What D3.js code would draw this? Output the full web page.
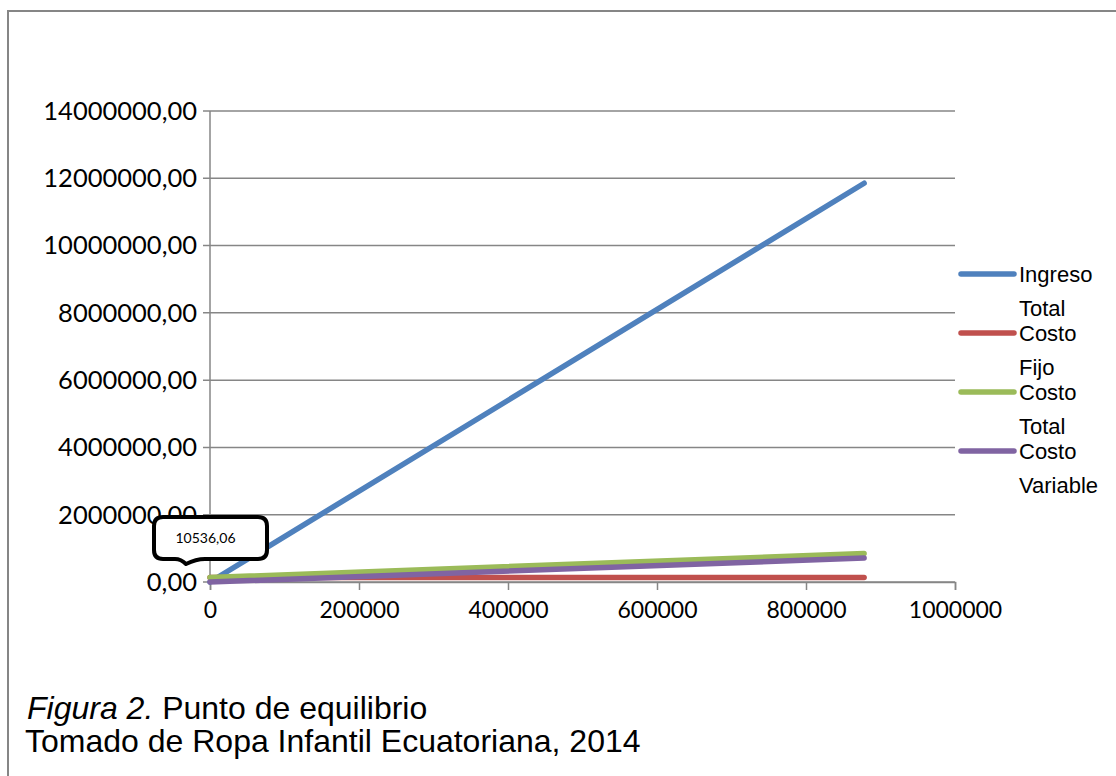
<!DOCTYPE html>
<html lang="es">
<head>
<meta charset="utf-8">
<script src="https://cdn.jsdelivr.net/npm/d3@7"></script>
<style>
  html, body { margin: 0; padding: 0; background: #fff; }
  svg { display: block; }
  .axis-label { font-family: Lato, "Open Sans", sans-serif; font-size: 23px; fill: #000; }
  .y-label { font-family: Lato, "Open Sans", sans-serif; font-size: 25.5px; fill: #000; }
  .legend-label { font-family: "Liberation Sans", Arial, sans-serif; font-size: 22px; fill: #000; }
  .caption { font-family: "Liberation Sans", Arial, sans-serif; font-size: 32px; fill: #000; }
</style>
</head>
<body>
<svg id="chart" width="1116" height="776"></svg>
<script>
// Cantidad de unidades (eje X) y valores de cada serie en dólares
const cantidad      = [0, 878000];
const ingresoTotal  = [0, 11853000];
const costoFijo     = [133700, 133700];
const costoTotal    = [133700, 846600];
const costoVariable = [0, 712900];

const seriesNames  = ["Ingreso Total", "Costo Fijo", "Costo Total", "Costo Variable"];
const legendLines  = [["Ingreso", "Total"], ["Costo", "Fijo"], ["Costo", "Total"], ["Costo", "Variable"]];
const seriesColors = ["#4F81BD", "#C0504D", "#9BBB59", "#8064A2"];

const yTicks = [0, 2000000, 4000000, 6000000, 8000000, 10000000, 12000000, 14000000];
const xTicks = [0, 200000, 400000, 600000, 800000, 1000000];

// Punto de equilibrio (unidades)
const puntoEquilibrio = 10536.06;

const series = [ingresoTotal, costoFijo, costoTotal, costoVariable].map((vals, i) => ({
  name: seriesNames[i],
  color: seriesColors[i],
  points: cantidad.map((q, j) => [q, vals[j]])
}));

const es = d3.formatLocale({ decimal: ",", thousands: "", grouping: [3], currency: ["", ""] });
const fmtY = es.format(".2f");
const fmtX = es.format("d");

const svg = d3.select("#chart");
const gridColor = "#868686";

// Marco del gráfico
svg.append("path")
  .attr("d", "M8,776V11H1116")
  .attr("fill", "none")
  .attr("stroke", gridColor)
  .attr("stroke-width", 2);

const x = d3.scaleLinear().domain([0, 1000000]).range([210, 955]);
const y = d3.scaleLinear().domain([0, 14000000]).range([582, 111]);

// Líneas de cuadrícula horizontales con marcas del eje Y
svg.append("g")
  .selectAll("line")
  .data(yTicks)
  .join("line")
  .attr("x1", 203)
  .attr("x2", x(1000000))
  .attr("y1", d => y(d))
  .attr("y2", d => y(d))
  .attr("stroke", gridColor)
  .attr("stroke-width", 1.5);

// Eje Y
svg.append("line")
  .attr("x1", x(0)).attr("x2", x(0))
  .attr("y1", y(14000000)).attr("y2", y(0))
  .attr("stroke", gridColor).attr("stroke-width", 1.5);

// Eje X con marcas
const xAxis = d3.axisBottom(x).tickValues(xTicks).tickSize(8).tickFormat(fmtX).tickPadding(12);
const gx = svg.append("g").attr("transform", `translate(0,${y(0)})`).call(xAxis);
gx.attr("font-family", null).attr("font-size", null);
gx.select(".domain").attr("stroke", gridColor).attr("stroke-width", 1.5);
gx.selectAll(".tick line").attr("stroke", gridColor).attr("stroke-width", 1.5);
gx.selectAll(".tick text")
  .attr("class", "axis-label")
  .attr("fill", "#000");

// Etiquetas del eje Y
svg.append("g")
  .selectAll("text")
  .data(yTicks)
  .join("text")
  .attr("class", "y-label")
  .attr("x", 197)
  .attr("y", d => y(d))
  .attr("dy", "0.35em")
  .attr("text-anchor", "end")
  .text(d => fmtY(d));

// Series
const line = d3.line().x(d => x(d[0])).y(d => y(d[1]));
svg.append("g")
  .selectAll("path")
  .data(series)
  .join("path")
  .attr("d", d => line(d.points))
  .attr("fill", "none")
  .attr("stroke", d => d.color)
  .attr("stroke-width", 5.5)
  .attr("stroke-linecap", "round");

// Leyenda
const legendRows = [274, 333, 392, 451];
const legend = svg.append("g");
series.forEach((s, i) => {
  const ly = legendRows[i];
  legend.append("line")
    .attr("x1", 961).attr("x2", 1014)
    .attr("y1", ly).attr("y2", ly)
    .attr("stroke", s.color)
    .attr("stroke-width", 5.5)
    .attr("stroke-linecap", "round");
  legend.append("text")
    .attr("class", "legend-label")
    .attr("x", 1019)
    .attr("y", ly)
    .attr("dy", "0.35em")
    .text(legendLines[i][0]);
  legend.append("text")
    .attr("class", "legend-label")
    .attr("x", 1019)
    .attr("y", ly + 34)
    .attr("dy", "0.35em")
    .text(legendLines[i][1]);
});

// Etiqueta del punto de equilibrio
const callout = svg.append("g");
const bx0 = 154, bx1 = 267, by0 = 517, by1 = 559, r = 9;
const calloutPath = [
  `M${bx0 + r},${by0}`,
  `H${bx1 - r}`,
  `Q${bx1},${by0} ${bx1},${by0 + r}`,
  `V${by1 - r}`,
  `Q${bx1},${by1} ${bx1 - r},${by1}`,
  `H205`,
  `Q196,${by1} 186,${by1 + 5}`,
  `Q181,${by1} 175,${by1}`,
  `H${bx0 + r}`,
  `Q${bx0},${by1} ${bx0},${by1 - r}`,
  `V${by0 + r}`,
  `Q${bx0},${by0} ${bx0 + r},${by0}`,
  "Z"
].join("");
callout.append("path")
  .attr("d", calloutPath)
  .attr("fill", "#fff")
  .attr("stroke", "#000")
  .attr("stroke-width", 4)
  .attr("stroke-linejoin", "round");
callout.append("text")
  .attr("x", (bx0 + bx1) / 2 - 5)
  .attr("y", (by0 + by1) / 2)
  .attr("dy", "0.35em")
  .attr("text-anchor", "middle")
  .attr("font-family", "Lato, 'Open Sans', sans-serif")
  .attr("font-size", 14)
  .text(es.format(".2f")(puntoEquilibrio));

// Pie de figura
const cap1 = svg.append("text").attr("class", "caption").attr("x", 27).attr("y", 719);
cap1.append("tspan").attr("font-style", "italic").text("Figura 2.");
cap1.append("tspan").text(" Punto de equilibrio");
svg.append("text").attr("class", "caption").attr("x", 25).attr("y", 752)
  .text("Tomado de Ropa Infantil Ecuatoriana, 2014");
</script>
</body>
</html>
